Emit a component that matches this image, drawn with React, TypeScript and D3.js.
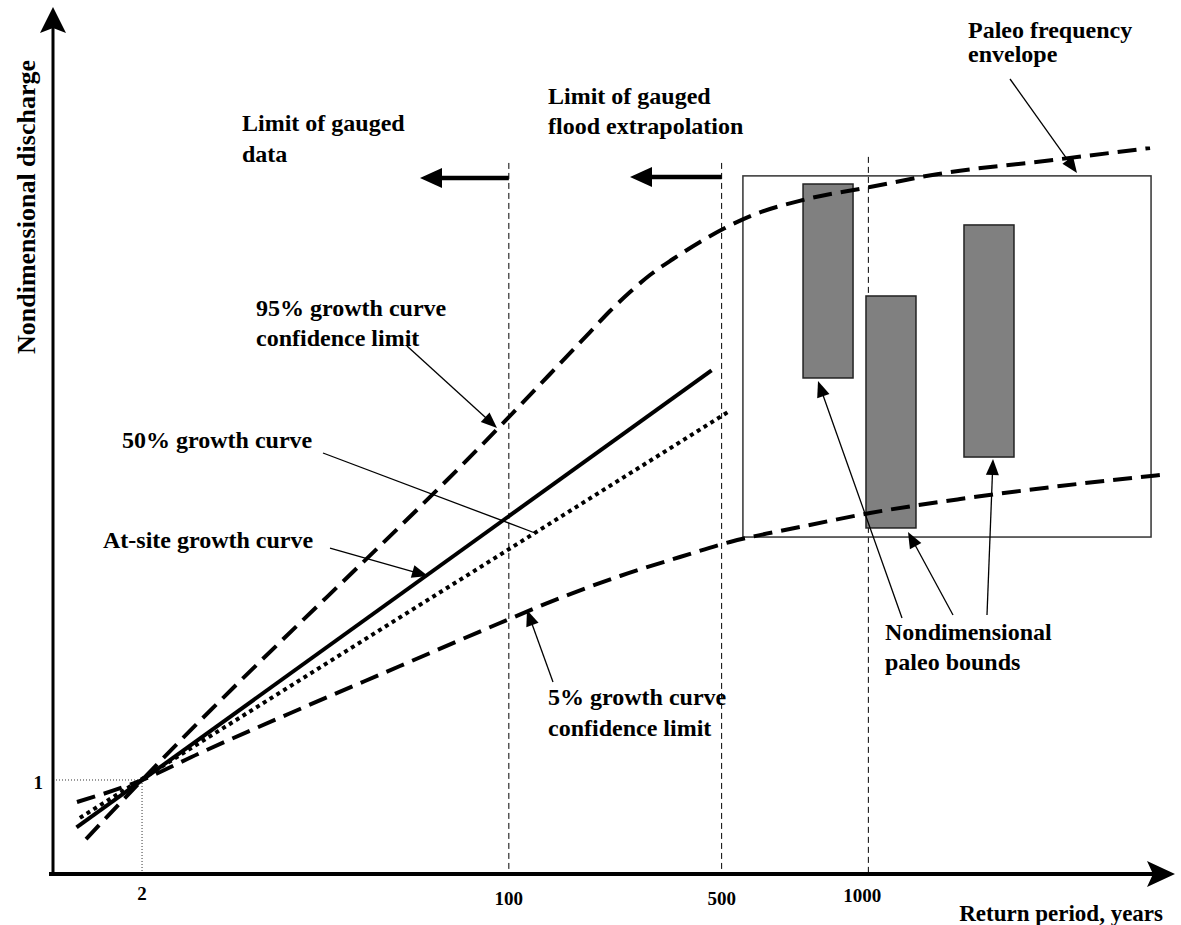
import React from "react";
import * as d3 from "d3";

const W = 1181;
const H = 925;

// Schematic chart: both axes are in abstract plot units (0–100).
// Return periods and where they fall on the horizontal axis
const returnPeriods = [2, 100, 500, 1000];
const returnPeriodPos = [7.95, 40.7, 59.7, 72.8];
// Vertical guide lines (return period, top of line)
const guidePeriods = [100, 500, 1000];
const guideTops = [82.3, 82.3, 83.0];
// Nondimensional discharge = 1
const unitDischargePos = 10.88;

// Curves: [x, y] in plot units
const atSiteCurve: [number, number][] = [
  [2.1, 5.4],
  [58.8, 58.3],
];
const growth50Curve: [number, number][] = [
  [2.4, 6.5],
  [60.3, 53.5],
];
const upper95Curve: [number, number][] = [
  [2.95, 4.05], [7.95, 10.88], [40.63, 52.78], [44.38, 57.87], [47.95, 62.73],
  [49.73, 65.16], [51.52, 67.36], [53.3, 69.33], [55.36, 71.18], [57.77, 73.15],
  [59.82, 74.65], [62.5, 76.27], [66.96, 78.01], [72.95, 79.51], [78.93, 81.0],
  [89.29, 82.64], [97.95, 84.03],
];
const lower5Curve: [number, number][] = [
  [2.14, 8.33], [7.95, 10.88], [13.13, 14.0], [22.05, 19.1], [30.98, 24.07],
  [39.91, 29.05], [45.27, 31.94], [50.63, 34.49], [55.98, 36.69], [60.45, 38.43],
  [66.7, 40.16], [72.95, 41.78], [81.0, 43.4], [89.9, 44.9], [98.84, 46.18],
];

// Paleo envelope box and paleo bounds (plot units)
const envelopeX = [61.6, 98.04];
const envelopeY = [39.0, 80.8];
const boundCenters = [69.2, 74.82, 83.57];
const boundLows = [57.41, 40.05, 48.26];
const boundHighs = [79.86, 66.9, 75.12];
const boundHalfWidth = 2.232;

const FONT = "'Liberation Serif', 'Times New Roman', Times, serif";

function Arrow({ x1, y1, x2, y2, head = 16, hw = 6.5, sw = 1.3 }: any) {
  const a = Math.atan2(y2 - y1, x2 - x1);
  const bx = x2 - head * Math.cos(a);
  const by = y2 - head * Math.sin(a);
  const px = -Math.sin(a) * hw;
  const py = Math.cos(a) * hw;
  return (
    <g>
      <line x1={x1} y1={y1} x2={bx + Math.cos(a) * 2} y2={by + Math.sin(a) * 2} stroke="#000" strokeWidth={sw} />
      <polygon points={`${x2},${y2} ${bx + px},${by + py} ${bx - px},${by - py}`} fill="#000" />
    </g>
  );
}

export default function App() {
  const x = d3.scaleLinear().domain([0, 100]).range([53, 1173]);
  const y = d3.scaleLinear().domain([0, 100]).range([874, 10]);
  const rp = d3.scaleLinear().domain(returnPeriods).range(returnPeriodPos);
  const line = d3
    .line<[number, number]>()
    .x((d) => x(d[0]))
    .y((d) => y(d[1]))
    .curve(d3.curveMonotoneX);

  const x0 = x(0);
  const y0 = y(0);
  const x2 = x(rp(2));
  const y1 = y(unitDischargePos);

  const textStyle: React.CSSProperties = { fontFamily: FONT, fontWeight: "bold" };

  return (
    <svg
      width={W}
      height={H}
      viewBox={`0 0 ${W} ${H}`}
      style={{ position: "absolute", left: 0, top: 0, background: "#fff", display: "block" }}
    >
      <rect x={0} y={0} width={W} height={H} fill="#fff" />

      {/* guide lines at T=2, Q=1 */}
      <line x1={x0} y1={y1} x2={x2} y2={y1} stroke="#333" strokeWidth={1} strokeDasharray="1,2" />
      <line x1={x2} y1={y1} x2={x2} y2={y0} stroke="#333" strokeWidth={1} strokeDasharray="1,2" />

      {/* vertical dashed guide lines */}
      {guidePeriods.map((t, i) => (
        <line
          key={t}
          x1={x(rp(t))}
          x2={x(rp(t))}
          y1={y(guideTops[i])}
          y2={y0}
          stroke="#000"
          strokeWidth={1}
          strokeDasharray="6,4"
        />
      ))}

      {/* paleo envelope box */}
      <rect
        x={x(envelopeX[0])}
        y={y(envelopeY[1])}
        width={x(envelopeX[1]) - x(envelopeX[0])}
        height={y(envelopeY[0]) - y(envelopeY[1])}
        fill="none"
        stroke="#333"
        strokeWidth={1.5}
      />

      {/* paleo bounds */}
      {boundCenters.map((c, i) => (
        <rect
          key={i}
          x={x(c - boundHalfWidth)}
          y={y(boundHighs[i])}
          width={x(c + boundHalfWidth) - x(c - boundHalfWidth)}
          height={y(boundLows[i]) - y(boundHighs[i])}
          fill="#808080"
          stroke="#222"
          strokeWidth={1.5}
        />
      ))}

      {/* curves */}
      <path d={line(upper95Curve) || ""} fill="none" stroke="#000" strokeWidth={4} strokeDasharray="19,9" />
      <path d={line(lower5Curve) || ""} fill="none" stroke="#000" strokeWidth={4} strokeDasharray="19,9" />
      <path d={line(growth50Curve) || ""} fill="none" stroke="#000" strokeWidth={4} strokeDasharray="4,4" />
      <path d={line(atSiteCurve) || ""} fill="none" stroke="#000" strokeWidth={4} />

      {/* axes */}
      <line x1={x0} y1={y0 + 2} x2={x0} y2={28} stroke="#000" strokeWidth={3} />
      <polygon points={`${x0},7 ${x0 - 13},33 ${x0},28 ${x0 + 13},33`} fill="#000" />
      <line x1={x0 - 4} y1={y0} x2={1155} y2={y0} stroke="#000" strokeWidth={4} />
      <polygon points={`1175,${y0} 1147,${y0 - 13} 1153,${y0} 1147,${y0 + 13}`} fill="#000" />

      {/* tick labels */}
      <g style={textStyle} fontSize={19} textAnchor="middle">
        {returnPeriods.map((t) => (
          <text key={t} x={x(rp(t)) - (t === 1000 ? 6 : 0)} y={t === 2 ? 900 : t === 1000 ? 902 : 905}>
            {t}
          </text>
        ))}
        <text x={43} y={y1 + 9} textAnchor="end">1</text>
      </g>

      {/* axis titles */}
      <text x={1163} y={921} textAnchor="end" fontSize={23} style={textStyle}>
        Return period, years
      </text>
      <text
        transform="translate(35,207) rotate(-90)"
        textAnchor="middle"
        fontSize={26}
        style={textStyle}
      >
        Nondimensional discharge
      </text>

      {/* gauged limits */}
      <Arrow x1={x(rp(100))} y1={178} x2={420} y2={178} head={22} hw={10} sw={4.5} />
      <Arrow x1={x(rp(500))} y1={177} x2={630} y2={177} head={22} hw={10} sw={4.5} />

      <g style={textStyle} fontSize={24}>
        <text x={242} y={131}>Limit of gauged</text>
        <text x={242} y={162}>data</text>
        <text x={548} y={104}>Limit of gauged</text>
        <text x={548} y={134}>flood extrapolation</text>
        <text x={968} y={38}>Paleo frequency</text>
        <text x={968} y={62}>envelope</text>
        <text x={256} y={316}>95% growth curve</text>
        <text x={256} y={346}>confidence limit</text>
        <text x={122} y={448}>50% growth curve</text>
        <text x={103} y={548}>At-site growth curve</text>
        <text x={548} y={705}>5% growth curve</text>
        <text x={548} y={736}>confidence limit</text>
        <text x={885} y={640}>Nondimensional</text>
        <text x={885} y={670}>paleo bounds</text>
      </g>

      {/* annotation arrows */}
      <Arrow x1={1010} y1={79} x2={1077} y2={173} />
      <Arrow x1={407} y1={346} x2={497} y2={428} />
      <line x1={323} y1={453} x2={535} y2={533} stroke="#000" strokeWidth={1.3} />
      <Arrow x1={330} y1={548} x2={428} y2={576} />
      <Arrow x1={553} y1={682} x2={527} y2={610} />
      <Arrow x1={902} y1={618} x2={818} y2={381} />
      <Arrow x1={953} y1={615} x2={908} y2={532} />
      <Arrow x1={987} y1={615} x2={993} y2={459} />
    </svg>
  );
}
